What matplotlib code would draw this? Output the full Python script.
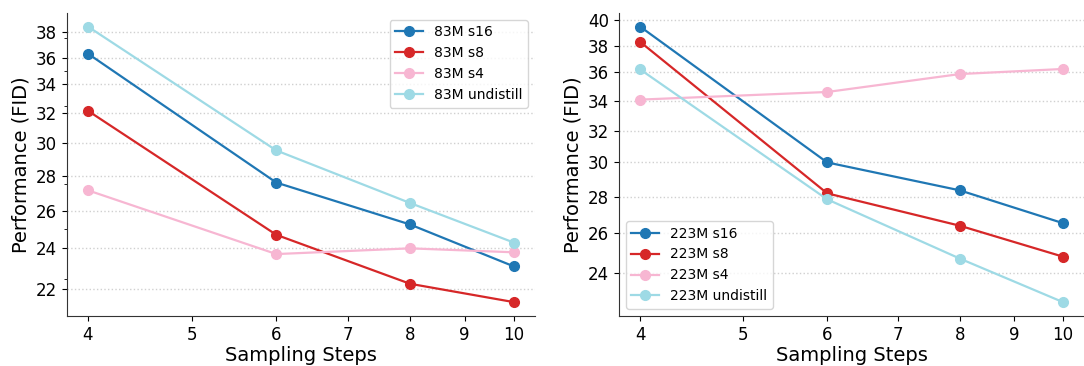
import matplotlib
matplotlib.use("Agg")
import matplotlib.pyplot as plt
from matplotlib.ticker import NullFormatter, FixedFormatter

steps = [4, 6, 8, 10]
xticks = [4, 5, 6, 7, 8, 9, 10]

# Left panel (83M)
left_s16 = [36.3, 27.6, 25.25, 23.1]
left_s8 = [32.15, 24.7, 22.26, 21.41]
left_s4 = [27.15, 23.71, 24.0, 23.8]
left_und = [38.45, 29.55, 26.43, 24.3]
left_yticks = [22, 24, 26, 28, 30, 32, 34, 36, 38]

# Right panel (223M)
right_s16 = [39.5, 30.0, 28.35, 26.53]
right_s8 = [38.3, 28.18, 26.39, 24.79]
right_s4 = [34.07, 34.6, 35.88, 36.25]
right_und = [36.22, 27.84, 24.69, 22.61]
right_yticks = [24, 26, 28, 30, 32, 34, 36, 38, 40]

colors = ["#1f77b4", "#d62728", "#f7b6d2", "#9edae5"]
suffixes = ["s16", "s8", "s4", "undistill"]

fig = plt.figure(figsize=(10.84, 3.66), dpi=100)
ax1 = fig.add_axes([0.0615, 0.137, 0.432, 0.828])
ax2 = fig.add_axes([0.571, 0.137, 0.429, 0.828])

panels = [
    (ax1, "83M", [left_s16, left_s8, left_s4, left_und], left_yticks, "upper right"),
    (ax2, "223M", [right_s16, right_s8, right_s4, right_und], right_yticks, "lower left"),
]

for ax, model, series, yt, loc in panels:
    for vals, c, s in zip(series, colors, suffixes):
        ax.plot(steps, vals, marker="o", color=c, lw=1.6, ms=7, label=f"{model} {s}")
    ax.set_xscale("log")
    ax.set_yscale("log")
    ax.set_xticks(xticks)
    ax.xaxis.set_major_formatter(FixedFormatter([str(v) for v in xticks]))
    ax.xaxis.set_minor_formatter(NullFormatter())
    ax.set_yticks(yt)
    ax.yaxis.set_major_formatter(FixedFormatter([str(v) for v in yt]))
    ax.yaxis.set_minor_formatter(NullFormatter())
    ax.tick_params(axis="both", which="major", labelsize=12)
    ax.grid(False, which="minor")
    ax.xaxis.grid(False, which="both")
    ax.yaxis.grid(True, which="major", linestyle=":", color="#d0d0d0", lw=1)
    ax.yaxis.grid(False, which="minor")
    ax.set_axisbelow(True)
    ax.spines["top"].set_visible(False)
    ax.spines["right"].set_visible(False)
    for sp in ("left", "bottom"):
        ax.spines[sp].set_color("#333333")
    ax.set_xlabel("Sampling Steps", fontsize=14, labelpad=2)
    ax.set_ylabel("Performance (FID)", fontsize=14, labelpad=4)
    ax.legend(loc=loc, fontsize=10)

fig.savefig("out.png", dpi=100)
